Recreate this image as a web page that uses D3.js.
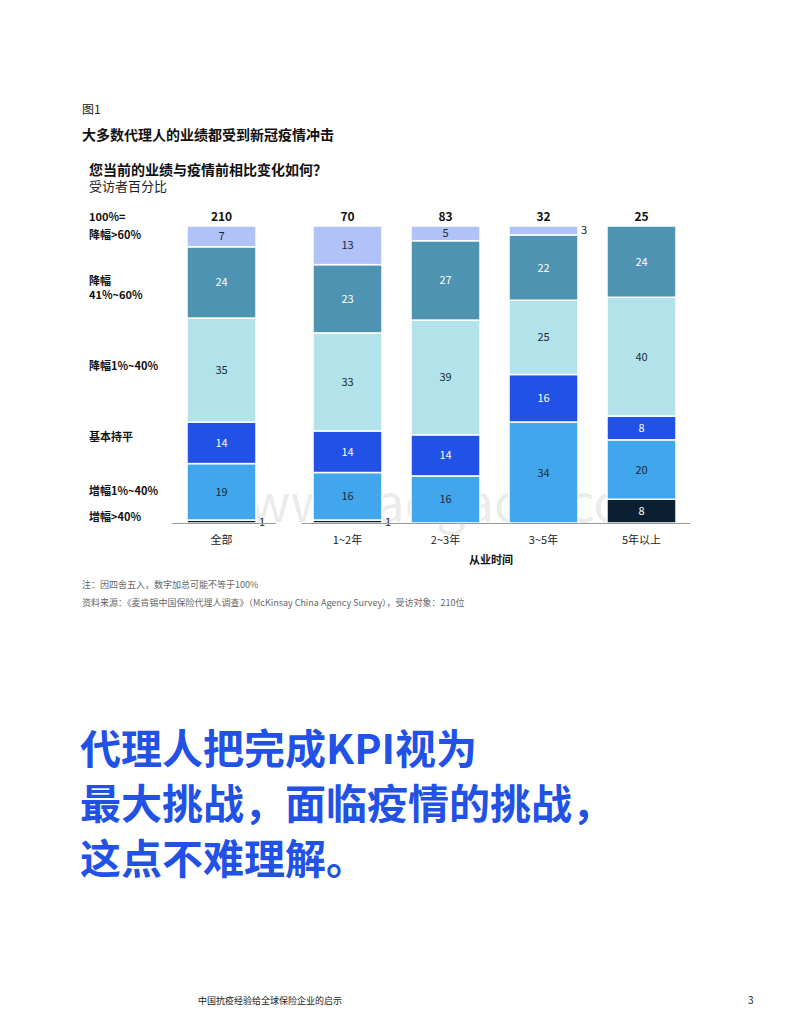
<!DOCTYPE html>
<html><head><meta charset="utf-8">
<script src="https://cdn.jsdelivr.net/npm/d3@7"></script>
<style>body{margin:0;background:#fff}text{font-family:"Noto Sans CJK SC","Noto Sans",sans-serif}</style>
</head><body>
<script>
var categories = ['全部', '1~2年', '2~3年', '3~5年', '5年以上'];
var totals = [210, 70, 83, 32, 25];
var seriesNames = ['增幅>40%', '增幅1%~40%', '基本持平', '降幅1%~40%', '降幅41%~60%', '降幅>60%'];
var values = [
  [1, 19, 14, 35, 24, 7],
  [1, 16, 14, 33, 23, 13],
  [0, 16, 14, 39, 27, 5],
  [0, 34, 16, 25, 22, 3],
  [8, 20, 8, 40, 24, 0]
];
var colors = ['#0b1f33', '#41a6ec', '#2251e6', '#b3e3ea', '#4e93b2', '#b0c2f7'];
var textColors = ['#fff', '#1a2a3a', '#fff', '#1a2a3a', '#fff', '#1a2a3a'];

var svg = d3.select('body').append('svg').attr('width', 800).attr('height', 1036);

var x = d3.scaleBand().domain(categories).range([166, 700]).paddingInner(0.3).paddingOuter(0);
// custom gap after first bar
var xs = {'全部': 187, '1~2年': 313, '2~3年': 411, '3~5年': 509, '5年以上': 607};
var bw = 69;
var y = d3.scaleLinear().domain([0, 100]).range([523, 226]);

svg.append('text').attr('x', 82).attr('y', 114).attr('font-size', 12).attr('fill', '#222').text('图1');
svg.append('text').attr('x', 82).attr('y', 140).attr('font-size', 14).attr('font-weight', 'bold').attr('fill', '#111').text('大多数代理人的业绩都受到新冠疫情冲击');
svg.append('text').attr('x', 89).attr('y', 175).attr('font-size', 14).attr('font-weight', 'bold').attr('fill', '#111').text('您当前的业绩与疫情前相比变化如何？');
svg.append('text').attr('x', 89).attr('y', 191).attr('font-size', 13).attr('fill', '#222').text('受访者百分比');

// watermark
svg.append('text').attr('x', 440).attr('y', 522).attr('text-anchor', 'middle').attr('font-size', 52)
  .attr('font-family', 'Liberation Sans').attr('fill', '#000').attr('fill-opacity', 0.08).text('www.baogao8.com');

var left = [['100%=', 221], ['降幅>60%', 239], ['降幅', 285], ['41%~60%', 299], ['降幅1%~40%', 370], ['基本持平', 441], ['增幅1%~40%', 495], ['增幅>40%', 521]];
svg.selectAll('.ll').data(left).enter().append('text').attr('x', 89).attr('y', function(d){return d[1];})
  .attr('font-size', 11).attr('font-weight', 'bold').attr('fill', '#111').text(function(d){return d[0];});

categories.forEach(function(c, i) {
  var tot = d3.sum(values[i]);
  var cum = 0;
  var g = svg.append('g');
  values[i].forEach(function(v, j) {
    var y0 = y(cum / tot * 100), y1 = y((cum + v) / tot * 100);
    cum += v;
    if (v === 0) return;
    g.append('rect').attr('x', xs[c]).attr('width', bw).attr('y', y1).attr('height', y0 - y1)
      .attr('fill', colors[j]).attr('stroke', '#fff').attr('stroke-width', 1.5);
    if (v <= 3) {
      g.append('text').attr('x', xs[c] + bw + 3).attr('y', (y0 + y1) / 2 + 4).attr('font-size', 11).attr('fill', '#222').text(v);
    } else {
      g.append('text').attr('x', xs[c] + bw / 2).attr('y', (y0 + y1) / 2 + 4).attr('text-anchor', 'middle')
        .attr('font-size', 11).attr('fill', textColors[j]).text(v);
    }
  });
  svg.append('text').attr('x', xs[c] + bw / 2).attr('y', 221).attr('text-anchor', 'middle').attr('font-size', 12)
    .attr('font-weight', 'bold').attr('fill', '#111').text(totals[i]);
  svg.append('text').attr('x', xs[c] + bw / 2).attr('y', 544).attr('text-anchor', 'middle').attr('font-size', 11)
    .attr('fill', '#222').text(c);
});
svg.append('line').attr('x1', 172).attr('x2', 276).attr('y1', 523.5).attr('y2', 523.5).attr('stroke', '#999');
svg.append('line').attr('x1', 302).attr('x2', 690).attr('y1', 523.5).attr('y2', 523.5).attr('stroke', '#999');
svg.append('text').attr('x', 491).attr('y', 564).attr('text-anchor', 'middle').attr('font-size', 11).attr('font-weight', 'bold').attr('fill', '#111').text('从业时间');

svg.append('text').attr('x', 82).attr('y', 588).attr('font-size', 9).attr('fill', '#666').text('注：因四舍五入，数字加总可能不等于100%');
svg.append('text').attr('x', 82).attr('y', 606).attr('font-size', 9).attr('fill', '#666').text('资料来源：《麦肯锡中国保险代理人调查》（McKinsay China Agency Survey），受访对象：210位');

var head = ['代理人把完成KPI视为', '最大挑战，面临疫情的挑战，', '这点不难理解。'];
svg.selectAll('.hd').data(head).enter().append('text').attr('x', 80).attr('y', function(d, i){return 764 + i * 55;})
  .attr('font-size', 41).attr('font-weight', 'bold').attr('fill', '#2251e6')
  .attr('font-family', '"Noto Serif CJK SC","Noto Sans CJK SC",serif').text(function(d){return d;});

svg.append('text').attr('x', 198).attr('y', 1004).attr('font-size', 9).attr('fill', '#222').text('中国抗疫经验给全球保险企业的启示');
svg.append('text').attr('x', 748).attr('y', 1004).attr('font-size', 10).attr('fill', '#222').text('3');
</script>
</body></html>
